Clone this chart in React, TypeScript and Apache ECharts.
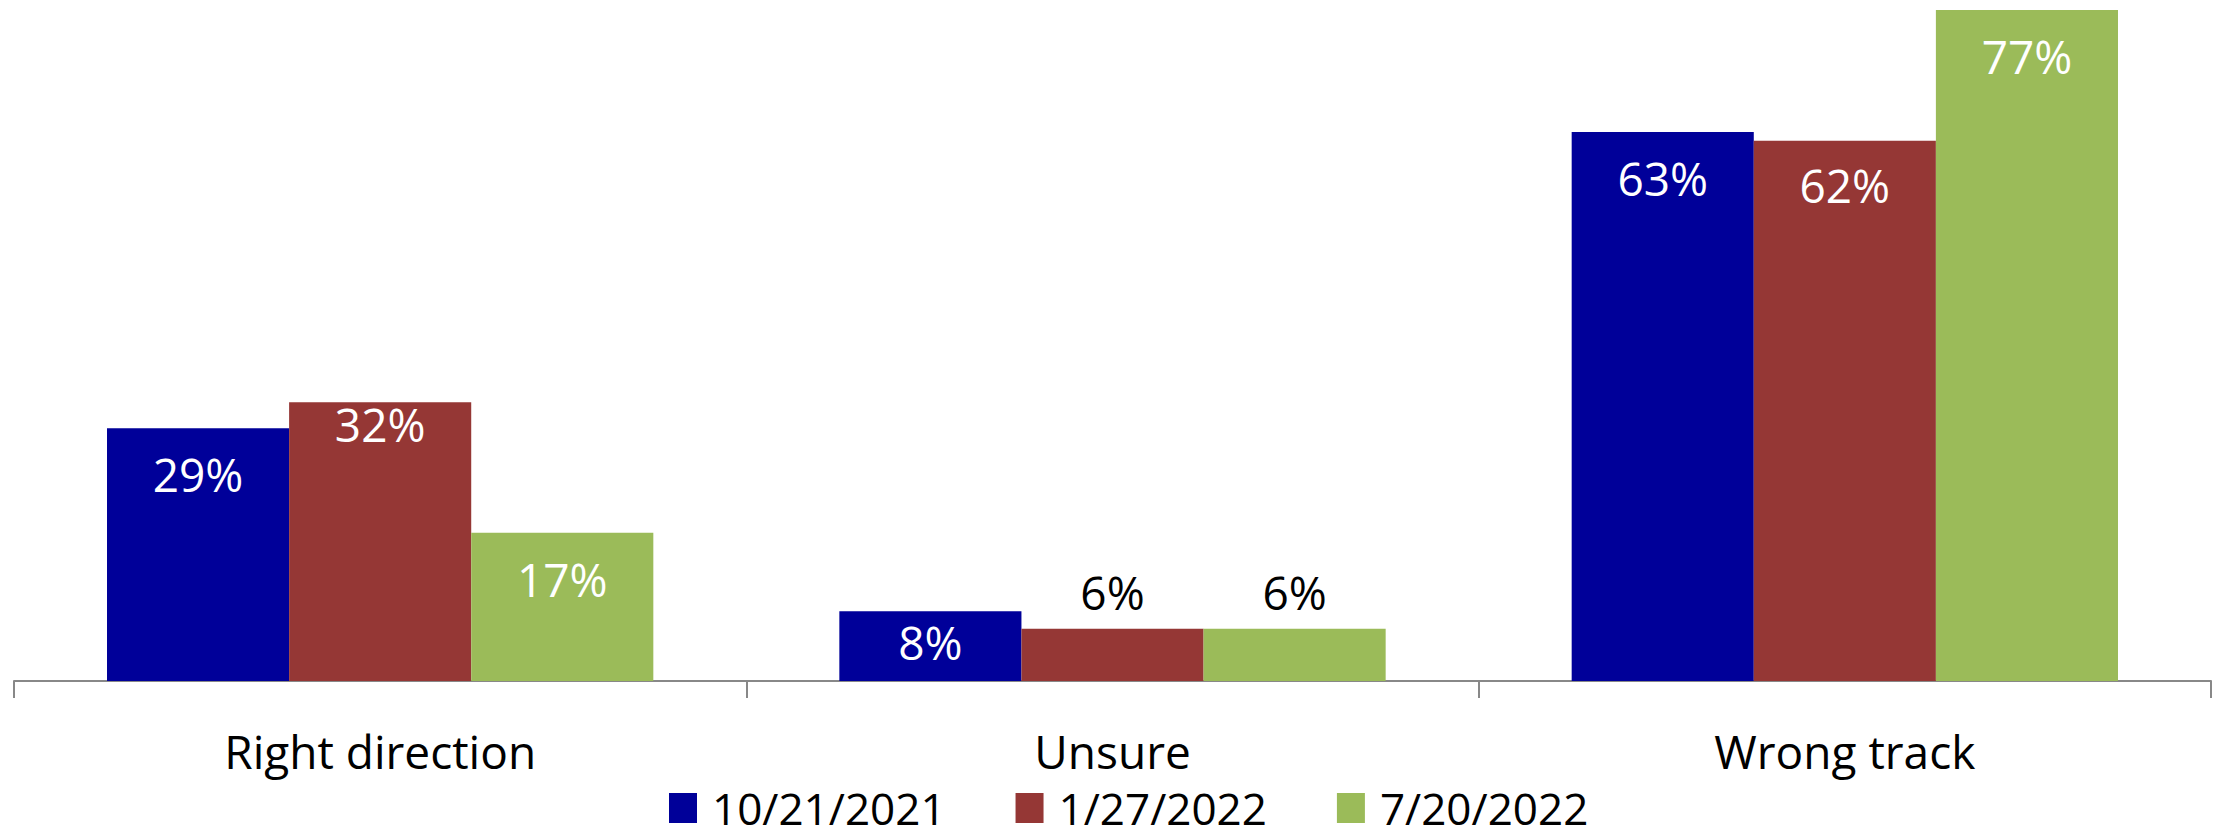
import React, { useEffect, useRef } from "react";
import * as echarts from "echarts";

const categories = ["Right direction", "Unsure", "Wrong track"];
const seriesNames = ["10/21/2021", "1/27/2022", "7/20/2022"];
const values2021Oct = [29, 8, 63];
const values2022Jan = [32, 6, 62];
const values2022Jul = [17, 6, 77];
const colors = ["#000099", "#953735", "#9BBB59"];

const FONT = "'Open Sans', 'Noto Sans', sans-serif";
const FS = 46;
const LEGEND_FS = 44;

// per-bar label placement (style only), indexed [series][category]
const labelStyles: any[][] = [
  [
    { position: "insideTop", distance: 23, color: "#fff" },
    { position: "insideTop", distance: 8, color: "#fff" },
    { position: "insideTop", distance: 23, color: "#fff" },
  ],
  [
    { position: "insideTop", distance: -1, color: "#fff" },
    { position: "top", distance: 14, color: "#000" },
    { position: "insideTop", distance: 21, color: "#fff" },
  ],
  [
    { position: "insideTop", distance: 23, color: "#fff" },
    { position: "top", distance: 14, color: "#000" },
    { position: "insideTop", distance: 23, color: "#fff" },
  ],
];

export default function App() {
  const ref = useRef<HTMLDivElement>(null);
  useEffect(() => {
    if (!ref.current) return;
    const chart = echarts.init(ref.current, null, { renderer: "svg" });
    const all = [values2021Oct, values2022Jan, values2022Jul];
    chart.setOption({
      animation: false,
      backgroundColor: "#fff",
      textStyle: { fontFamily: FONT },
      grid: { left: 14, right: 13, top: 10, bottom: 159, containLabel: false },
      legend: {
        left: 669,
        top: 785,
        padding: 0,
        itemWidth: 28,
        itemHeight: 30,
        itemGap: 70,
        icon: "rect",
        data: seriesNames,
        textStyle: {
          fontSize: LEGEND_FS,
          lineHeight: 46,
          color: "#000",
          fontFamily: FONT,
          padding: [0, 0, 0, 10],
        },
      },
      xAxis: {
        type: "category",
        data: categories,
        axisLine: { lineStyle: { color: "#888", width: 2 } },
        axisTick: { show: true, length: 17, lineStyle: { color: "#888", width: 2 } },
        axisLabel: { color: "#000", fontSize: FS, margin: 47, fontFamily: FONT },
      },
      yAxis: {
        type: "value",
        min: 0,
        max: 77,
        show: false,
        splitLine: { show: false },
      },
      series: seriesNames.map((name, si) => ({
        name,
        type: "bar",
        barGap: "0%",
        barCategoryGap: "25.4%",
        itemStyle: { color: colors[si] },
        label: {
          show: true,
          formatter: "{c}%",
          fontSize: FS,
          fontFamily: FONT,
        },
        data: all[si].map((v, ci) => ({
          value: v,
          label: labelStyles[si][ci],
        })),
      })),
    });
    return () => chart.dispose();
  }, []);
  return (
    <div
      ref={ref}
      style={{ position: "fixed", left: 0, top: 0, width: 2224, height: 840 }}
    />
  );
}
